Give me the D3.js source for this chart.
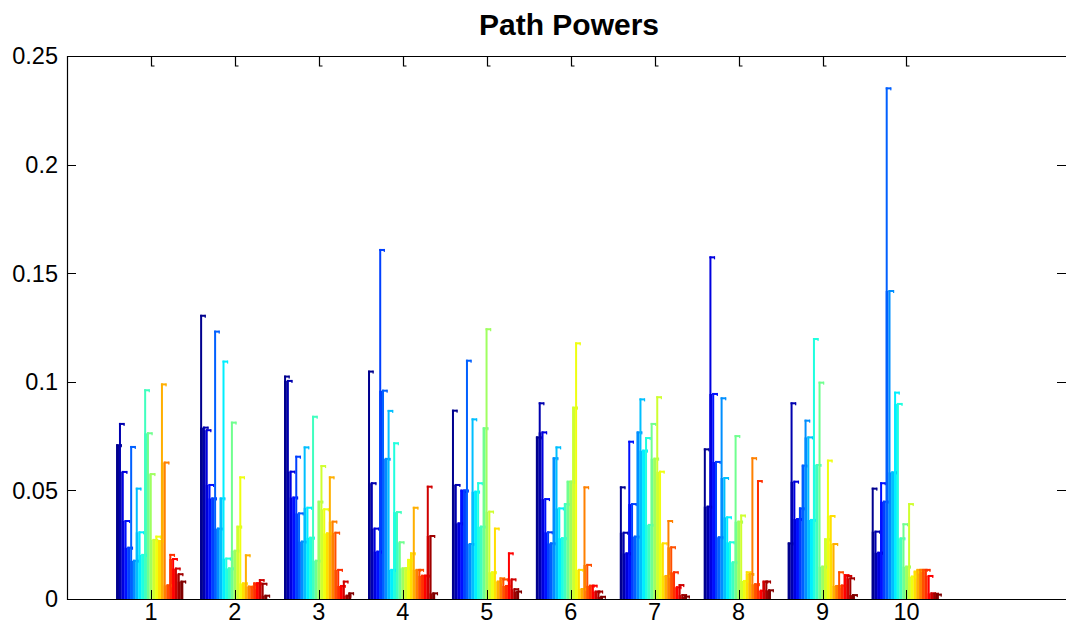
<!DOCTYPE html>
<html>
<head>
<meta charset="utf-8">
<script src="https://cdn.jsdelivr.net/npm/d3@7"></script>
<style>
  body { margin: 0; background: #fff; }
  svg { display: block; }
  text { font-family: "Liberation Sans", Arial, sans-serif; fill: #000; }
</style>
</head>
<body>
<svg id="chart" width="1069" height="629"></svg>
<script>
// Path Powers - grouped bars, 24 paths per group, jet colours

const groups = [1, 2, 3, 4, 5, 6, 7, 8, 9, 10];
const yTicks = [0, 0.05, 0.1, 0.15, 0.2, 0.25];

// one array per group, 24 path powers each
const group1  = [0.0708, 0.0806, 0.0585, 0.0359, 0.0236, 0.0700, 0.0176, 0.0508, 0.0307, 0.0203, 0.0961, 0.0763,
                 0.0575, 0.0272, 0.0287, 0.0267, 0.0988, 0.0628, 0.0063, 0.0203, 0.0184, 0.0140, 0.0114, 0.0080];
const group2  = [0.1304, 0.0789, 0.0777, 0.0525, 0.0463, 0.1231, 0.0324, 0.0463, 0.1093, 0.0186, 0.0141, 0.0812,
                 0.0222, 0.0333, 0.0560, 0.0072, 0.0201, 0.0057, 0.0054, 0.0072, 0.0072, 0.0087, 0.0070, 0.0015];
const group3  = [0.1024, 0.1004, 0.0586, 0.0467, 0.0655, 0.0394, 0.0264, 0.0698, 0.0420, 0.0282, 0.0839, 0.0176,
                 0.0448, 0.0612, 0.0413, 0.0302, 0.0560, 0.0356, 0.0305, 0.0134, 0.0060, 0.0080, 0.0015, 0.0026];
const group4  = [0.1047, 0.0533, 0.0324, 0.0218, 0.1607, 0.0959, 0.0645, 0.0866, 0.0134, 0.0717, 0.0400, 0.0261,
                 0.0141, 0.0141, 0.0180, 0.0210, 0.0420, 0.0134, 0.0134, 0.0107, 0.0107, 0.0517, 0.0290, 0.0026];
const group5  = [0.0867, 0.0525, 0.0348, 0.0499, 0.0499, 0.1097, 0.0253, 0.0827, 0.0494, 0.0533, 0.0333, 0.0786,
                 0.1242, 0.0402, 0.0123, 0.0324, 0.0080, 0.0095, 0.0090, 0.0060, 0.0210, 0.0090, 0.0045, 0.0034];
const group6  = [0.0744, 0.0901, 0.0767, 0.0460, 0.0307, 0.0256, 0.0648, 0.0698, 0.0417, 0.0280, 0.0437, 0.0540,
                 0.0540, 0.0881, 0.1177, 0.0134, 0.0046, 0.0514, 0.0157, 0.0061, 0.0061, 0.0034, 0.0034, 0.0010];
const group7  = [0.0514, 0.0305, 0.0210, 0.0724, 0.0437, 0.0287, 0.0767, 0.0919, 0.0683, 0.0741, 0.0341, 0.0806,
                 0.0646, 0.0929, 0.0586, 0.0256, 0.0106, 0.0359, 0.0238, 0.0123, 0.0054, 0.0064, 0.0018, 0.0011];
const group8  = [0.0689, 0.0425, 0.1573, 0.0944, 0.0631, 0.0284, 0.0924, 0.0557, 0.0376, 0.0261, 0.0169, 0.0750,
                 0.0356, 0.0384, 0.0083, 0.0123, 0.0115, 0.0648, 0.0068, 0.0543, 0.0038, 0.0080, 0.0080, 0.0040];
const group9  = [0.0256, 0.0901, 0.0540, 0.0368, 0.0417, 0.0614, 0.0821, 0.0744, 0.0364, 0.1197, 0.0617, 0.0996,
                 0.0149, 0.0275, 0.0637, 0.0382, 0.0253, 0.0060, 0.0123, 0.0062, 0.0110, 0.0106, 0.0095, 0.0018];
const group10 = [0.0508, 0.0310, 0.0213, 0.0533, 0.0448, 0.2351, 0.1418, 0.0583, 0.0950, 0.0898, 0.0279, 0.0344,
                 0.0149, 0.0437, 0.0103, 0.0126, 0.0134, 0.0134, 0.0134, 0.0134, 0.0106, 0.0026, 0.0024, 0.0020];

const powers = [group1, group2, group3, group4, group5, group6, group7, group8, group9, group10];
const nPaths = group1.length;

// MATLAB jet(n)
function jet(n) {
  const m = Math.ceil(n / 4);
  const u = [];
  for (let i = 1; i <= m; i++) u.push(i / m);
  for (let i = 1; i < m; i++) u.push(1);
  for (let i = m; i >= 1; i--) u.push(i / m);
  const off = Math.ceil(m / 2) - (n % 4 === 1 ? 1 : 0);
  const J = d3.range(n).map(() => [0, 0, 0]);
  const bIdx = [];
  u.forEach((val, k) => {
    const g = off + k + 1;
    if (g <= n) J[g - 1][1] = val;
    if (g + m <= n) J[g + m - 1][0] = val;
    if (g - m >= 1) bIdx.push(g - m);
  });
  bIdx.forEach((b, k) => { J[b - 1][2] = u[u.length - bIdx.length + k]; });
  return J.map(c => d3.rgb(c[0] * 255, c[1] * 255, c[2] * 255).formatHex());
}

// series colours: scaled mapping of series index into the 64-entry figure colormap
const cmap = jet(64);
const colors = d3.range(nPaths).map(i =>
  cmap[Math.min(63, Math.floor(i / (nPaths - 1) * 64))]);

const svg = d3.select("#chart");

const x = d3.scaleLinear().domain([0, 11.9]).range([67, 1066]);
const y = d3.scaleLinear().domain([0, 0.25]).range([599, 56]);
const band = d3.scaleBand().domain(d3.range(nPaths)).range([-0.4, 0.4]);

const bars = svg.append("g");

powers.forEach((vals, gi) => {
  const c = groups[gi];
  const g = bars.append("g");
  // filled part between neighbouring bar edges
  vals.forEach((v, i) => {
    const xl = x(c + band(i)) - 1.2;
    const xr = x(c + band(i) + band.step()) - 1.2;
    const h = i < vals.length - 1 ? Math.min(v, vals[i + 1]) : v;
    g.append("rect")
      .attr("x", xl).attr("y", y(h))
      .attr("width", xr - xl).attr("height", y(0) - y(h))
      .attr("fill", colors[i]);
  });
  // edge line and top cap
  vals.forEach((v, i) => {
    const xl = x(c + band(i)) - 1.2;
    g.append("rect")
      .attr("x", xl).attr("y", y(v) - 1)
      .attr("width", 2).attr("height", y(0) - y(v) + 1)
      .attr("fill", colors[i]);
    g.append("rect")
      .attr("x", xl).attr("y", y(v) - 1)
      .attr("width", 5.5).attr("height", 2)
      .attr("fill", colors[i]);
    g.append("rect")
      .attr("x", xl + 4.5).attr("y", y(v) - 1)
      .attr("width", 1.2).attr("height", 3)
      .attr("fill", colors[i]);
  });
});

// axes frame
const axisColor = "#000";
svg.append("line").attr("x1", 67).attr("x2", 1066).attr("y1", 56.5).attr("y2", 56.5)
  .attr("stroke", axisColor).attr("stroke-width", 1.2);
svg.append("line").attr("x1", 67).attr("x2", 1066).attr("y1", 599.5).attr("y2", 599.5)
  .attr("stroke", axisColor).attr("stroke-width", 1.2);
svg.append("line").attr("x1", 67.5).attr("x2", 67.5).attr("y1", 56).attr("y2", 600)
  .attr("stroke", axisColor).attr("stroke-width", 1.2);

// y ticks, left and right, with labels on the left
yTicks.forEach(t => {
  const yy = Math.round(y(t)) + 0.5;
  svg.append("line").attr("x1", 67).attr("x2", 76).attr("y1", yy).attr("y2", yy)
    .attr("stroke", axisColor);
  svg.append("line").attr("x1", 1057).attr("x2", 1066).attr("y1", yy).attr("y2", yy)
    .attr("stroke", axisColor);
  svg.append("text")
    .attr("x", 58).attr("y", y(t))
    .attr("dy", "0.36em")
    .attr("text-anchor", "end")
    .attr("font-size", "23.5px")
    .text(t === 0 ? "0" : d3.format("")(t));
});

// x ticks on top and bottom, labels below
groups.forEach(c => {
  const xx = Math.round(x(c)) + 0.5;
  svg.append("path")
    .attr("d", `M${xx},56 V66 H${xx + 3}`)
    .attr("fill", "none").attr("stroke", axisColor).attr("stroke-width", 1.2);
  svg.append("line").attr("x1", xx).attr("x2", xx).attr("y1", 599).attr("y2", 590)
    .attr("stroke", axisColor);
  svg.append("text")
    .attr("x", x(c)).attr("y", 620)
    .attr("text-anchor", "middle")
    .attr("font-size", "23.5px")
    .text(c);
});

svg.append("text")
  .attr("x", 569).attr("y", 35)
  .attr("text-anchor", "middle")
  .attr("font-size", "30px")
  .attr("font-weight", "bold")
  .text("Path Powers");
</script>
</body>
</html>
